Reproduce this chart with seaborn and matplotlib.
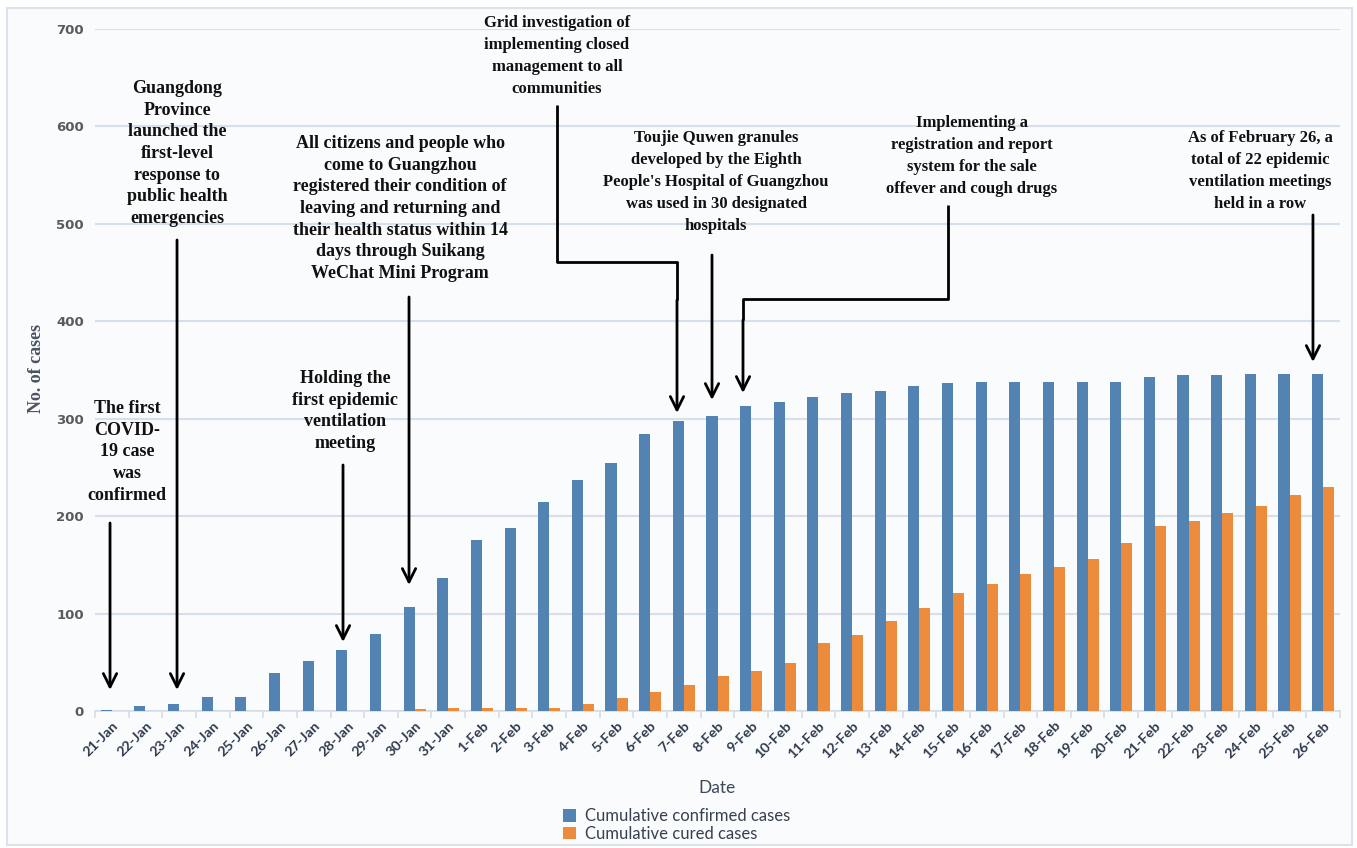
import pandas as pd
import numpy as np
import matplotlib
matplotlib.use('Agg')
import matplotlib.pyplot as plt
import matplotlib.patches as mpatches
import seaborn as sns

dates = ['21-Jan', '22-Jan', '23-Jan', '24-Jan', '25-Jan', '26-Jan', '27-Jan', '28-Jan', '29-Jan',
         '30-Jan', '31-Jan', '1-Feb', '2-Feb', '3-Feb', '4-Feb', '5-Feb', '6-Feb', '7-Feb', '8-Feb',
         '9-Feb', '10-Feb', '11-Feb', '12-Feb', '13-Feb', '14-Feb', '15-Feb', '16-Feb', '17-Feb',
         '18-Feb', '19-Feb', '20-Feb', '21-Feb', '22-Feb', '23-Feb', '24-Feb', '25-Feb', '26-Feb']

confirmed = [1, 5, 7, 14, 14, 39, 51, 63, 79, 107, 137, 176, 188, 215, 237, 255, 284, 298, 303,
             313, 317, 322, 326, 328, 334, 337, 338, 338, 338, 338, 338, 343, 345, 345, 346, 346, 346]

cured = [0, 0, 0, 0, 0, 0, 0, 0, 0, 2, 3, 3, 3, 3, 7, 13, 20, 27, 36,
         41, 49, 70, 78, 92, 106, 121, 130, 141, 148, 156, 172, 190, 195, 203, 210, 222, 230]

series_names = ['Cumulative confirmed cases', 'Cumulative cured cases']

# tabla larga para seaborn
df = pd.DataFrame({
    'Date': dates * 2,
    'cases': confirmed + cured,
    'series': [series_names[0]] * len(dates) + [series_names[1]] * len(dates),
})

colors = {series_names[0]: '#5383b3', series_names[1]: '#ec8b3b'}

fig = plt.figure(figsize=(13.57, 8.48), dpi=100)
fig.patch.set_facecolor('white')
# marco claro de fondo
fig.patches.append(mpatches.Rectangle((7 / 1357, 3 / 848), 1345 / 1357, 837 / 848,
                                      transform=fig.transFigure, facecolor='#fafbfd',
                                      edgecolor='#dde2ea', lw=1.5, zorder=-10))

ax = fig.add_axes([95 / 1357, 1 - 711 / 848, 1245 / 1357, 682 / 848])
ax.set_facecolor('none')

sns.barplot(data=df, x='Date', y='cases', hue='series', palette=colors, width=0.66,
            saturation=1, ax=ax, zorder=3)

ax.set_ylim(0, 700)
ax.set_xlim(-0.5, len(dates) - 0.5)
ax.set_yticks(range(0, 701, 100))
ax.yaxis.grid(True, color='#d6e0eb', lw=1.5, zorder=0)
ax.xaxis.grid(False)
for s in ['top', 'right', 'left']:
    ax.spines[s].set_visible(False)
ax.spines['bottom'].set_color('#d6dde6')
ax.spines['bottom'].set_linewidth(1.2)

ax.tick_params(axis='y', length=0, pad=8, labelsize=9.5, labelcolor='#5a5a5a')
for t in ax.get_yticklabels():
    t.set_fontweight('bold')
    t.set_family('DejaVu Sans')

ax.set_xticks(np.arange(len(dates)))
ax.set_xticklabels(dates, rotation=45, ha='right', rotation_mode='anchor',
                   fontsize=10.3, color='#2e3a4b', family='Lato', fontweight='bold')
ax.tick_params(axis='x', length=0, pad=6)
# marcas pequeñas entre categorias
ax.set_xticks(np.arange(-0.5, len(dates), 1), minor=True)
ax.tick_params(axis='x', which='minor', length=5, color='#d6dde6', width=1.2)

ax.set_xlabel('Date', fontsize=12.5, color='#3e4858', family='Lato', labelpad=14)
ax.set_ylabel('No. of cases', fontsize=13, color='#4d5361', family='Liberation Serif',
              fontweight='bold')
ax.yaxis.set_label_coords(-(95 - 45) / 1245, (711 - 368) / 682)

handles, labels = ax.get_legend_handles_labels()
ax.get_legend().remove()
fig.legend(handles, labels, loc='upper left', bbox_to_anchor=(548 / 1357, 1 - 793 / 848),
           frameon=False, handlelength=0.8, handleheight=0.8, handletextpad=0.5,
           labelspacing=0.1, prop={'family': 'Lato', 'size': 12}, labelcolor='#36404f')

# anotaciones
def px2y(py):
    return (711 - py) / (682 / 700)

def px2x(px):
    return (px - 111.8) / 33.65

note_kw = dict(ha='center', va='top', fontweight='bold',
               family='Liberation Serif', color='#111111', zorder=6)
line_kw = dict(color='black', lw=2, clip_on=False, zorder=6, solid_capstyle='butt')
arrow_kw = dict(arrowstyle='->', color='black', lw=2, mutation_scale=24, shrinkA=0, shrinkB=0)

notes = [
    ('The first\nCOVID-\n19 case\nwas\nconfirmed', 127, 400),
    ('Guangdong\nProvince\nlaunched the\nfirst-level\nresponse to\npublic health\nemergencies', 177, 80),
    ('All citizens and people who\ncome to Guangzhou\nregistered their condition of\n'
     'leaving and returning and\ntheir health status within 14\ndays through Suikang\n'
     'WeChat Mini Program', 400, 135),
    ('Holding the\nfirst epidemic\nventilation\nmeeting', 345, 370),
    ('Grid investigation of\nimplementing closed\nmanagement to all\ncommunities', 557, 15),
    ("Toujie Quwen granules\ndeveloped by the Eighth\nPeople's Hospital of Guangzhou\n"
     "was used in 30 designated\nhospitals", 716, 130),
    ('Implementing a\nregistration and report\nsystem for the sale\noffever and cough drugs', 972, 115),
    ('As of February 26, a\ntotal of 22 epidemic\nventilation meetings\nheld in a row', 1260, 130),
]
for txt, px, py in notes:
    if px < 500:
        ax.text(px2x(px), px2y(py), txt, fontsize=13, linespacing=1.36, **note_kw)
    else:
        ax.text(px2x(px), px2y(py), txt, fontsize=12, linespacing=1.5, **note_kw)

# flechas rectas
arrows = [(110, 523, 690), (177, 240, 690), (409, 297, 585), (343, 465, 642),
          (712, 255, 400), (1313, 215, 362)]
for px, py0, py1 in arrows:
    ax.annotate('', xy=(px2x(px), px2y(py1)), xytext=(px2x(px), px2y(py0)),
                arrowprops=arrow_kw, annotation_clip=False, zorder=6)

# flechas con codo
ax.plot([px2x(557), px2x(557), px2x(677), px2x(677)],
        [px2y(105), px2y(262), px2y(262), px2y(300)], **line_kw)
ax.annotate('', xy=(px2x(677), px2y(413)), xytext=(px2x(677), px2y(300)),
            arrowprops=arrow_kw, annotation_clip=False, zorder=6)

ax.plot([px2x(948), px2x(948), px2x(743), px2x(743)],
        [px2y(205), px2y(299), px2y(299), px2y(320)], **line_kw)
ax.annotate('', xy=(px2x(743), px2y(393)), xytext=(px2x(743), px2y(320)),
            arrowprops=arrow_kw, annotation_clip=False, zorder=6)

plt.savefig('out.png', dpi=100)
